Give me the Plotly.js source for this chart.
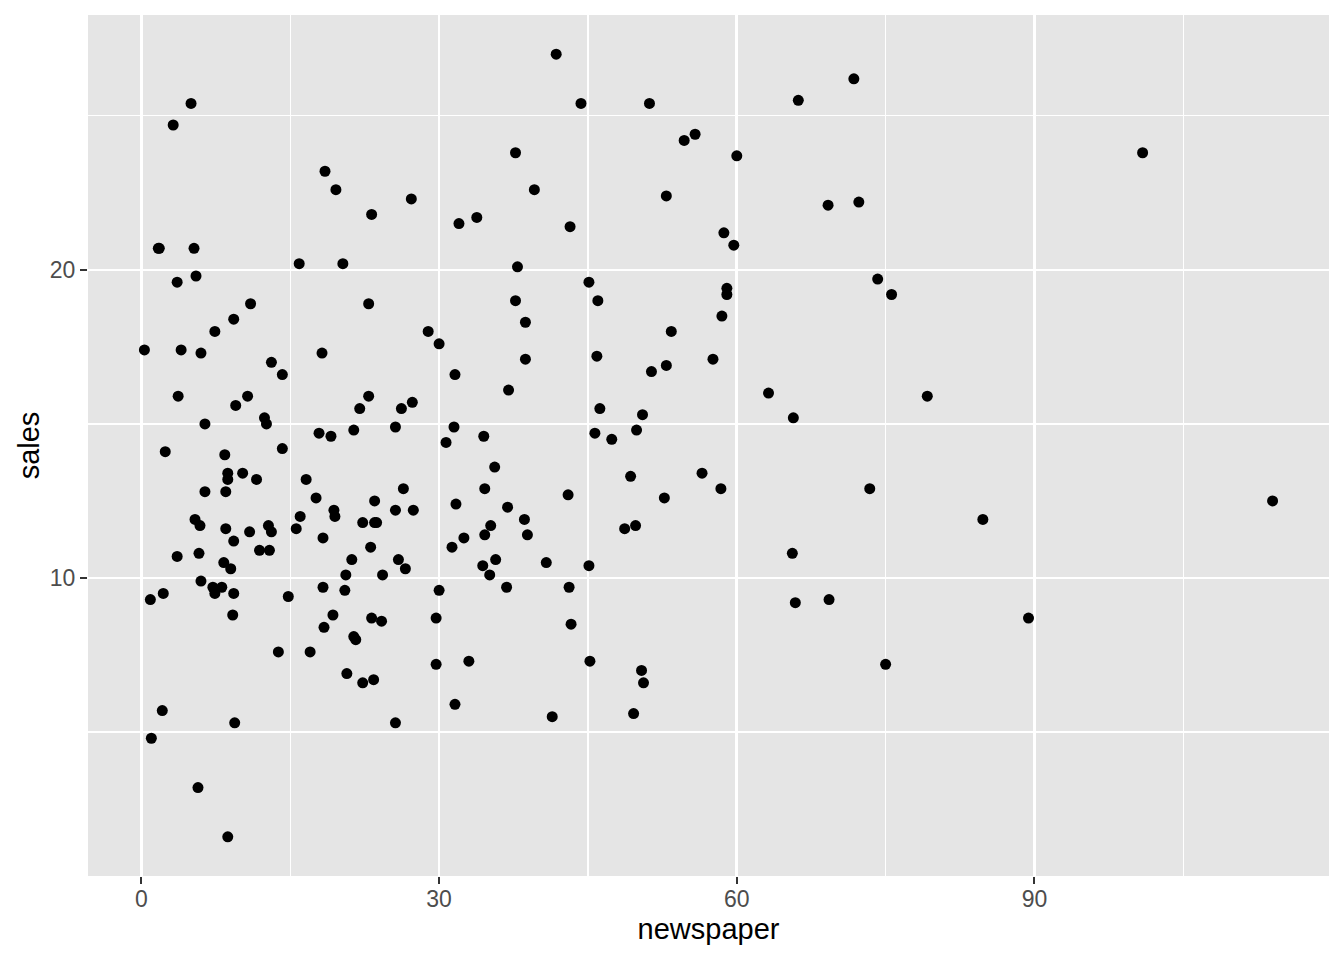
<!DOCTYPE html>
<html>
<head>
<meta charset="utf-8">
<script src="https://cdn.plot.ly/plotly-3.0.1.min.js"></script>
<style>html,body{margin:0;padding:0;background:#fff;}#chart{width:1344px;height:960px;}</style>
</head>
<body>
<div id="chart"></div>
<script>
const newspaper = [69.2,45.1,69.3,58.5,58.4,75,23.5,11.6,1,21.2,24.2,4,65.9,7.2,46,52.9,114,55.8,18.3,19.1,
53.4,23.5,49.6,26.2,18.3,19.5,12.6,22.9,22.9,40.8,43.2,38.6,30,0.3,7.4,8.5,5,45.7,35.1,32,
31.6,38.7,1.8,26.4,43.3,31.5,35.7,18.5,49.9,36.8,34.6,3.6,39.6,58.7,15.9,60,41.4,16.6,37.7,9.3,
21.4,54.7,27.3,8.4,28.9,0.9,2.2,10.2,11,27.2,38.7,31.7,19.3,31.3,13.1,89.4,20.7,14.2,9.4,23.1,
22.3,36.9,32.5,35.6,33.8,65.7,16,63.2,73.4,51.4,9.3,33,59,72.3,10.9,52.9,5.9,22,51.2,45.9,
49.8,100.9,21.4,17.9,5.3,59,29.7,23.2,25.6,5.5,56.5,23.2,2.4,10.7,34.5,52.7,25.6,14.8,79.2,22.3,
46.2,50.4,15.6,12.4,74.2,25.9,50.6,9.2,3.2,43.1,8.7,43,2.1,45.1,65.6,8.5,9.3,59.7,20.5,1.7,
12.9,75.6,37.9,34.4,38.9,9,8.7,44.3,11.9,20.6,37,48.7,14.2,37.7,9.5,5.7,50.5,24.3,45.2,34.6,
30.7,49.3,25.6,7.4,5.4,84.8,21.6,19.4,57.6,6.4,18.4,47.4,17,12.8,13.1,41.8,20.3,35.2,23.7,17.6,
8.3,27.4,29.7,71.8,30,19.6,26.6,18.2,3.7,23.4,5.8,6,31.6,3.6,6,13.8,8.1,6.4,66.2,8.7];
const sales = [22.1,10.4,9.3,18.5,12.9,7.2,11.8,13.2,4.8,10.6,8.6,17.4,9.2,9.7,19,22.4,12.5,24.4,11.3,14.6,
18,12.5,5.6,15.5,9.7,12,15,15.9,18.9,10.5,21.4,11.9,9.6,17.4,9.5,12.8,25.4,14.7,10.1,21.5,
16.6,17.1,20.7,12.9,8.5,14.9,10.6,23.2,14.8,9.7,11.4,10.7,22.6,21.2,20.2,23.7,5.5,13.2,23.8,18.4,
8.1,24.2,15.7,14,18,9.3,9.5,13.4,18.9,22.3,18.3,12.4,8.8,11,17,8.7,6.9,14.2,5.3,11,
11.8,12.3,11.3,13.6,21.7,15.2,12,16,12.9,16.7,11.2,7.3,19.4,22.2,11.5,16.9,11.7,15.5,25.4,17.2,
11.7,23.8,14.8,14.7,20.7,19.2,7.2,8.7,5.3,19.8,13.4,21.8,14.1,15.9,14.6,12.6,12.2,9.4,15.9,6.6,
15.5,7,11.6,15.2,19.7,10.6,6.6,8.8,24.7,9.7,1.6,12.7,5.7,19.6,10.8,11.6,9.5,20.8,9.6,20.7,
10.9,19.2,20.1,10.4,11.4,10.3,13.2,25.4,10.9,10.1,16.1,11.6,16.6,19,15.6,3.2,15.3,10.1,7.3,12.9,
14.4,13.3,14.9,18,11.9,11.9,8,12.2,17.1,15,8.4,14.5,7.6,11.7,11.5,27,20.2,11.7,11.8,12.6,
10.5,12.2,8.7,26.2,17.6,22.6,10.3,17.3,15.9,6.7,10.8,9.9,5.9,19.6,17.3,7.6,9.7,12.8,25.5,13.4];
const xTitle = "newspaper";
const yTitle = "sales";

const trace = {
  x: newspaper, y: sales, type: 'scatter', mode: 'markers',
  marker: {color: '#000000', size: 11, line: {width: 0}},
  hoverinfo: 'x+y'
};

const tickFont = {family: 'Liberation Sans, Arial, sans-serif', size: 23, color: '#4D4D4D'};
const titleFont = {family: 'Liberation Sans, Arial, sans-serif', size: 29, color: '#000000'};

const layout = {
  width: 1344, height: 960,
  paper_bgcolor: '#FFFFFF', plot_bgcolor: '#E5E5E5',
  margin: {l: 88, r: 15, t: 15, b: 84, pad: 0},
  showlegend: false,
  xaxis: {
    range: [-5.385, 119.685], tick0: 0, dtick: 30, tickmode: 'linear',
    ticks: 'outside', ticklen: 7, tickwidth: 2, tickcolor: '#333333',
    ticklabelstandoff: -5,
    tickfont: tickFont, showgrid: true, gridcolor: '#FFFFFF', gridwidth: 2.6,
    zeroline: false, showline: false, automargin: false,
    minor: {tick0: 0, dtick: 15, showgrid: true, gridcolor: '#FFFFFF', gridwidth: 1.3, ticks: ''},
    title: {text: xTitle, font: titleFont, standoff: 8}
  },
  yaxis: {
    range: [0.33, 28.27], tick0: 0, dtick: 10, tickmode: 'linear',
    ticks: 'outside', ticklen: 7, tickwidth: 2, tickcolor: '#333333',
    tickfont: tickFont, showgrid: true, gridcolor: '#FFFFFF', gridwidth: 2.6,
    zeroline: false, showline: false, automargin: false,
    minor: {tick0: 0, dtick: 5, showgrid: true, gridcolor: '#FFFFFF', gridwidth: 1.3, ticks: ''},
    title: {text: yTitle, font: titleFont, standoff: 1}
  }
};

Plotly.newPlot('chart', [trace], layout, {displayModeBar: false, staticPlot: true});
</script>
</body>
</html>
